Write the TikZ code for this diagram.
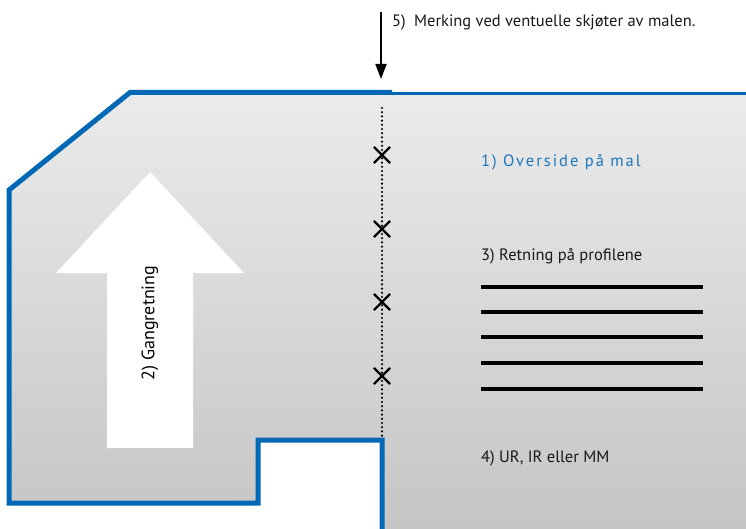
\documentclass[tikz,border=0pt]{standalone}
\usepackage{fontspec}
\setmainfont{PT Sans}
\usetikzlibrary{shapes.misc,arrows.meta}
\definecolor{malblue}{HTML}{0068B4}
\definecolor{txtblue}{HTML}{1F78BE}
\definecolor{gtop}{HTML}{EBEBEB}
\definecolor{gbot}{HTML}{C5C5C5}
\tikzset{
  outline/.style={draw=malblue,line width=5pt,line join=miter},
  xmark/.style={cross out,draw=black,line width=2.2pt,minimum size=14pt,inner sep=0pt},
  profile/.style={line width=4.5pt,black},
  lbl/.style={anchor=west,inner sep=0pt,font=\fontsize{16.5}{18}\selectfont,text=black!90},
}
\begin{document}
\begin{tikzpicture}[x=1pt,y=-1pt]
\useasboundingbox (0,0) rectangle (746,529);
% gray template with gradient
\shade[top color=gtop,bottom color=gbot]
  (9,190) -- (130,93) -- (746,93) -- (746,529) -- (382,529) -- (382,440)
  -- (258,440) -- (258,503) -- (9,503) -- cycle;
% blue outline
\draw[outline] (392,92.5) -- (130,92.5) -- (9,190) -- (9,503) -- (258,503)
  -- (258,440) -- (382,440) -- (382,529);
\draw[malblue,line width=3pt] (392,93.5) -- (746,93.5);
% white arrow
\fill[white] (107,448) -- (107,273) -- (56,273) -- (150,172) -- (244,273)
  -- (193,273) -- (193,448) -- cycle;
\node[rotate=90,inner sep=0pt,font=\fontsize{18}{20}\selectfont] (gang) at (150,323) {2) Gangretning};
% dotted joint line with marks
\coordinate (dtop) at (382,108);
\coordinate (dbot) at (382,436);
\draw[line width=2.4pt,line cap=round,dash pattern=on 0pt off 4.2pt] (dtop) -- (dbot);
\node[xmark] (x1) at (382,155) {};
\node[xmark] (x2) at (382,229) {};
\node[xmark] (x3) at (382,302) {};
\node[xmark] (x4) at (382,376) {};
% top arrow and label
\coordinate (atop) at (381,12);
\coordinate (abot) at (381,79);
\draw[line width=1.8pt,-{Triangle[length=15pt,width=11pt]}] (atop) -- (abot);
\node[lbl] (l5) at (392,22) {5)\hspace{0.5em}Merking ved ventuelle skjøter av malen.};
% right side labels
\node[lbl,text=txtblue] (l1) at (481,162) {\addfontfeature{LetterSpace=12}1) Overside på mal};
\node[lbl] (l3) at (481,256) {3) Retning på profilene};
\foreach \y [count=\i] in {287,312,337,363,389}
  \draw[profile] (481,\y) coordinate (p\i a) -- (703,\y) coordinate (p\i b);
\node[lbl] (l4) at (481,458) {4) UR, IR eller MM};
\end{tikzpicture}
\end{document}
